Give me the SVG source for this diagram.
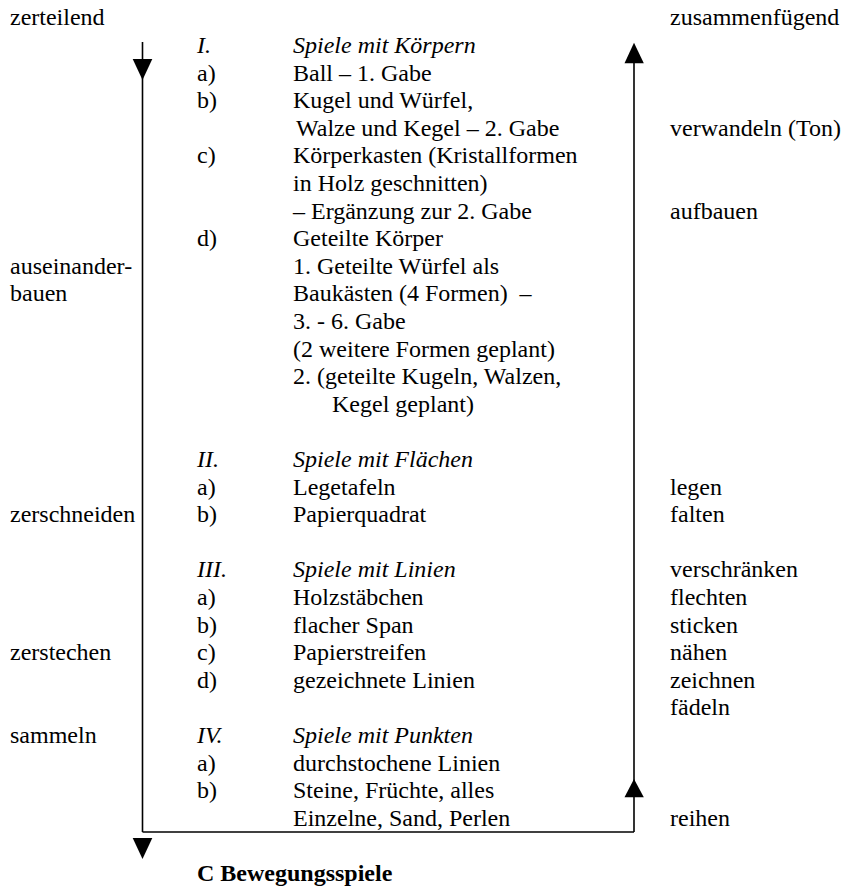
<svg xmlns="http://www.w3.org/2000/svg" width="845" height="888" viewBox="0 0 845 888">
<style>
.i{font-style:italic}
.b{font-weight:bold}
.ln{stroke:#000;stroke-width:1.6;fill:none}
.ah{fill:#000;stroke:none}
</style>
<rect width="845" height="888" fill="#fff"/>
<g id="connectors">
<line class="ln" x1="142.5" y1="42" x2="142.5" y2="832"/>
<line class="ln" x1="142.5" y1="832" x2="634" y2="832"/>
<line class="ln" x1="634" y1="832" x2="634" y2="60"/>
<polygon class="ah" points="132.7,59 152.3,59 142.5,80"/>
<polygon class="ah" points="132.7,838 152.3,838 142.5,859"/>
<polygon class="ah" points="624.5,63.3 643.8,63.3 634,42.7"/>
<polygon class="ah" points="624.5,797.3 643.8,797.3 634,779"/>
</g>
<g font-family="Liberation Serif, Times New Roman, DejaVu Serif, serif" font-size="24" fill="#000">
<g id="left-labels">
<text x="10" y="25.4">zerteilend</text>
<text x="10" y="273.8">auseinander-</text>
<text x="10" y="301.4">bauen</text>
<text x="10" y="522.2">zerschneiden</text>
<text x="10" y="660.2">zerstechen</text>
<text x="10" y="743">sammeln</text>
</g>
<g id="right-labels">
<text x="670" y="25.4">zusammenfügend</text>
<text x="670" y="135.8">verwandeln (Ton)</text>
<text x="670" y="218.6">aufbauen</text>
<text x="670" y="494.6">legen</text>
<text x="670" y="522.2">falten</text>
<text x="670" y="577.4">verschränken</text>
<text x="670" y="605">flechten</text>
<text x="670" y="632.6">sticken</text>
<text x="670" y="660.2">nähen</text>
<text x="670" y="687.8">zeichnen</text>
<text x="670" y="715.4">fädeln</text>
<text x="670" y="825.8">reihen</text>
</g>
<g id="section-I">
<text class="i" x="197" y="53">I.</text>
<text class="i" x="293" y="53">Spiele mit Körpern</text>
<text x="197" y="80.6">a)</text>
<text x="293" y="80.6">Ball – 1. Gabe</text>
<text x="197" y="108.2">b)</text>
<text x="293" y="108.2">Kugel und Würfel,</text>
<text x="296" y="135.8">Walze und Kegel – 2. Gabe</text>
<text x="197" y="163.4">c)</text>
<text x="293" y="163.4">Körperkasten (Kristallformen</text>
<text x="293" y="191">in Holz geschnitten)</text>
<text x="293" y="218.6">– Ergänzung zur 2. Gabe</text>
<text x="197" y="246.2">d)</text>
<text x="293" y="246.2">Geteilte Körper</text>
<text x="293" y="273.8">1. Geteilte Würfel als</text>
<text x="293" y="301.4" xml:space="preserve">Baukästen (4 Formen)  –</text>
<text x="293" y="329">3. - 6. Gabe</text>
<text x="293" y="356.6">(2 weitere Formen geplant)</text>
<text x="293" y="384.2">2. (geteilte Kugeln, Walzen,</text>
<text x="332" y="411.8">Kegel geplant)</text>
</g>
<g id="section-II">
<text class="i" x="197" y="467">II.</text>
<text class="i" x="293" y="467">Spiele mit Flächen</text>
<text x="197" y="494.6">a)</text>
<text x="293" y="494.6">Legetafeln</text>
<text x="197" y="522.2">b)</text>
<text x="293" y="522.2">Papierquadrat</text>
</g>
<g id="section-III">
<text class="i" x="197" y="577.4">III.</text>
<text class="i" x="293" y="577.4">Spiele mit Linien</text>
<text x="197" y="605">a)</text>
<text x="293" y="605">Holzstäbchen</text>
<text x="197" y="632.6">b)</text>
<text x="293" y="632.6">flacher Span</text>
<text x="197" y="660.2">c)</text>
<text x="293" y="660.2">Papierstreifen</text>
<text x="197" y="687.8">d)</text>
<text x="293" y="687.8">gezeichnete Linien</text>
</g>
<g id="section-IV">
<text class="i" x="197" y="743">IV.</text>
<text class="i" x="293" y="743">Spiele mit Punkten</text>
<text x="197" y="770.6">a)</text>
<text x="293" y="770.6">durchstochene Linien</text>
<text x="197" y="798.2">b)</text>
<text x="293" y="798.2">Steine, Früchte, alles</text>
<text x="293" y="825.8">Einzelne, Sand, Perlen</text>
</g>
<g id="footer">
<text class="b" x="197" y="881">C Bewegungsspiele</text>
</g>
</g>
</svg>
